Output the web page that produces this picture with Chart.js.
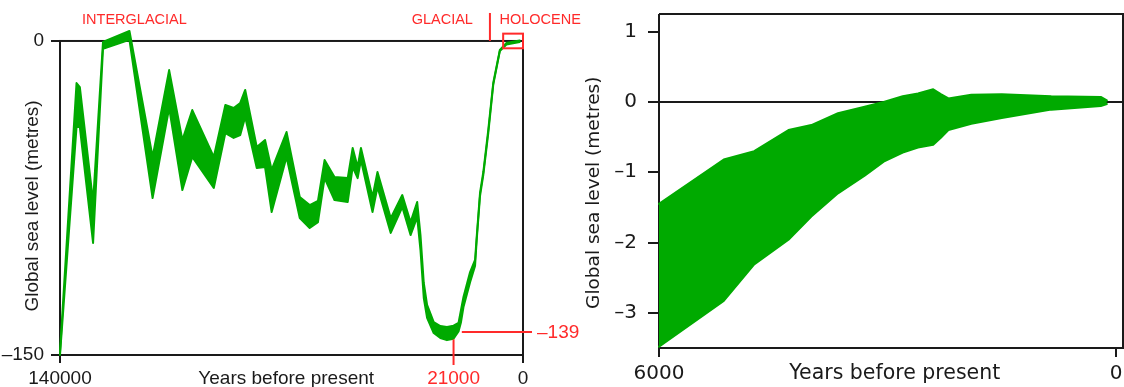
<!DOCTYPE html>
<html>
<head>
<meta charset="utf-8">
<script src="https://cdn.jsdelivr.net/npm/chart.js@4.4.1/dist/chart.umd.min.js"></script>
<style>
  html, body { margin: 0; padding: 0; background: #fff; }
  #wrap { position: relative; width: 1124px; height: 387px; overflow: hidden; }
  #cycle { position: absolute; left: 0; top: 0; }
  #holo { position: absolute; left: 580px; top: 0; }
</style>
</head>
<body>
<div id="wrap">
  <canvas id="cycle" width="600" height="387"></canvas>
  <canvas id="holo" width="544" height="387"></canvas>
</div>
<script>
// ---- Last glacial cycle: sea-level envelope, metres relative to present ----
const cycleYears = [140000, 135000, 134000, 130000, 127000, 119000, 112000, 107000, 103000, 100000,
  93500, 90000, 87500, 85500, 84000, 80500, 78000, 76000, 71500, 67500,
  64500, 62000, 60000, 57000, 53000, 51500, 50000, 49000, 45500, 44000,
  40000, 36500, 34000, 32000, 31000, 30000, 29000, 27000, 25000, 23000,
  21000, 19500, 18750, 18000, 16000, 14500, 14000, 13000, 12000, 10500,
  9000, 7000, 5000, 1000];
const cycleUpper = [-148.6, -20.1, -22.0, -76.9, -0.5, 4.8, -55.4, -13.9, -47.3, -33.0,
  -55.4, -30.6, -32.0, -29.6, -23.4, -50.6, -47.3, -61.6, -43.5, -74.5,
  -78.4, -76.4, -56.9, -65.0, -65.5, -51.1, -60.2, -51.1, -74.5, -62.6,
  -84.6, -73.6, -86.5, -76.9, -92.7, -115.6, -126.1, -134.3, -136.2, -136.6,
  -136.0, -134.7, -128.5, -122.3, -110.4, -104.6, -93.6, -72.6, -62.6, -42.5,
  -20.1, -4.3, -1.0, 0.2];
const cycleLower = [-150.0, -41.1, -41.1, -96.5, -3.8, 0.5, -75.0, -32.0, -71.2, -55.4,
  -70.2, -44.0, -46.3, -44.9, -36.3, -60.7, -60.2, -81.7, -55.4, -84.6,
  -89.3, -86.5, -65.5, -76.0, -76.9, -60.2, -65.5, -56.9, -81.7, -69.8,
  -91.7, -79.3, -92.7, -84.1, -99.9, -122.8, -132.3, -139.5, -141.9, -142.9,
  -142.2, -138.8, -134.3, -127.1, -115.2, -107.5, -95.1, -74.1, -64.0, -44.0,
  -21.0, -4.8, -1.7, -0.5];
const cycleXTicks = [140000, 21000, 0];
const cycleYTicks = [-150, 0];
const lowstandYear = 21000;
const lowstandLevel = -139;
const boundaryYear = 10000;
const interglacialYear = 117500;

// ---- Last 6000 years (Holocene detail) ----
const holoYears = [6000, 5150, 4750, 4300, 4000, 3650, 3300, 3050, 2800, 2600,
  2400, 2300, 2200, 1900, 1500, 850, 200, 120];
const holoUpper = [-1.45, -0.82, -0.70, -0.40, -0.33, -0.16, -0.07, 0.00, 0.08, 0.12,
  0.18, 0.11, 0.05, 0.10, 0.11, 0.08, 0.07, 0.02];
const holoLower = [-3.48, -2.83, -2.31, -1.96, -1.63, -1.30, -1.05, -0.85, -0.72, -0.65,
  -0.61, -0.51, -0.40, -0.31, -0.23, -0.11, -0.06, -0.03];
const holoXTicks = [6000, 0];
const holoYTicks = [1, 0, -1, -2, -3];

const GREEN = '#00aa00';
const RED = '#ff2a2a';
const INK = '#1a1a1a';
const SANS = '"Liberation Sans", Arial, sans-serif';
const WIDE = '"DejaVu Sans", sans-serif';

Chart.defaults.font.family = SANS;

function fmt(v) { return v < 0 ? '\u2013' + Math.abs(v) : String(v); }

function band(years, upper, lower, width) {
  const pts = arr => years.map((x, i) => ({ x, y: arr[i] }));
  const common = {
    pointRadius: 0, borderColor: GREEN, borderWidth: width, tension: 0,
    borderJoinStyle: 'round', borderCapStyle: 'round', clip: false
  };
  return [
    Object.assign({ label: 'upper bound', data: pts(upper), fill: false }, common),
    Object.assign({ label: 'lower bound', data: pts(lower), fill: '-1', backgroundColor: GREEN }, common)
  ];
}

function fixedTicks(values) {
  return scale => { scale.ticks = values.map(value => ({ value })); };
}

// give an axis a fixed thickness and keep its labels from pushing the plot area in
function fixedBox(size) {
  return s => {
    if (s.isHorizontal()) s.height = size; else s.width = size;
    s.paddingTop = 0; s.paddingBottom = 0; s.paddingLeft = 0; s.paddingRight = 0;
  };
}

function seg(ctx, x0, y0, x1, y1) {
  ctx.beginPath(); ctx.moveTo(x0, y0); ctx.lineTo(x1, y1); ctx.stroke();
}

// frame, period labels, zoom box and lowstand marker
const cycleDecor = {
  id: 'cycleDecor',
  beforeDatasetsDraw(chart) {
    const { ctx, scales: { x, y } } = chart;
    const xl = x.getPixelForValue(x.max), xr = x.getPixelForValue(x.min);
    const yt = y.getPixelForValue(0), yb = y.getPixelForValue(y.min);
    ctx.save();
    ctx.strokeStyle = INK; ctx.lineWidth = 2;
    ctx.strokeRect(xl, yt, xr - xl, yb - yt);
    ctx.restore();
  },
  afterDatasetsDraw(chart) {
    const { ctx, scales: { x, y } } = chart;
    const xr = x.getPixelForValue(x.min);
    const yt = y.getPixelForValue(0), yb = y.getPixelForValue(y.min);
    ctx.save();
    ctx.strokeStyle = RED; ctx.fillStyle = RED; ctx.lineWidth = 2;

    const xb = x.getPixelForValue(boundaryYear);
    seg(ctx, xb, yt - 28, xb, yt);
    ctx.font = '14.5px ' + SANS;
    ctx.textBaseline = 'middle';
    const ty = yt - 21;
    ctx.textAlign = 'right'; ctx.fillText('GLACIAL', xb - 17, ty);
    ctx.textAlign = 'left'; ctx.fillText('HOLOCENE', xb + 9.5, ty);
    ctx.textAlign = 'center'; ctx.fillText('INTERGLACIAL', x.getPixelForValue(interglacialYear), ty);

    const bx0 = x.getPixelForValue(holoYears[0]), bx1 = x.getPixelForValue(0);
    const by0 = y.getPixelForValue(3.5), by1 = y.getPixelForValue(-3.5);
    ctx.strokeRect(bx0, by0, bx1 - bx0, by1 - by0);

    const lx = x.getPixelForValue(lowstandYear), ly = y.getPixelForValue(lowstandLevel);
    seg(ctx, x.getPixelForValue(18500), ly, xr + 9, ly);
    seg(ctx, lx, y.getPixelForValue(-142.5), lx, yb + 10);
    ctx.font = '19px ' + SANS;
    ctx.textAlign = 'left';
    ctx.fillText(fmt(lowstandLevel), xr + 14, ly + 1);
    ctx.restore();
  }
};

const holoDecor = {
  id: 'holoDecor',
  beforeDatasetsDraw(chart) {
    const { ctx, chartArea: a, scales: { x, y } } = chart;
    const xl = x.getPixelForValue(x.max);
    ctx.save();
    ctx.strokeStyle = INK; ctx.lineWidth = 2;
    seg(ctx, xl, a.top, a.right, a.top);
    seg(ctx, xl, a.bottom, a.right, a.bottom);
    seg(ctx, xl, a.top, xl, a.bottom);
    seg(ctx, a.right - 1, a.top, a.right - 1, a.bottom);
    const y0 = y.getPixelForValue(0);
    seg(ctx, xl, y0, a.right, y0);
    ctx.restore();
  }
};

const quiet = { legend: { display: false }, tooltip: { enabled: false } };

new Chart(document.getElementById('cycle'), {
  type: 'line',
  data: { datasets: band(cycleYears, cycleUpper, cycleLower, 2) },
  options: {
    responsive: false, animation: false, devicePixelRatio: 1, events: [],
    layout: { padding: { top: 30.5, right: 77, left: 0, bottom: 0 } },
    plugins: quiet,
    scales: {
      x: {
        type: 'linear', reverse: true, min: 0, max: 140000,
        afterBuildTicks: fixedTicks(cycleXTicks),
        afterFit: fixedBox(32),
        border: { display: false },
        grid: {
          drawOnChartArea: false, drawTicks: true, tickLength: 8, lineWidth: 2,
          color: c => (c.tick && c.tick.value === lowstandYear) ? 'rgba(0,0,0,0)' : INK
        },
        ticks: {
          autoSkip: false, maxRotation: 0, padding: 6,
          color: c => (c.tick && c.tick.value === lowstandYear) ? RED : INK,
          font: { family: SANS, size: 19, lineHeight: 1 },
          callback: v => fmt(v)
        },
        title: {
          display: true, text: 'Years before present  ', color: INK,
          font: { family: SANS, size: 19, lineHeight: 1 }, padding: { top: 0, bottom: -1 }
        }
      },
      y: {
        min: -150, max: 5,
        afterBuildTicks: fixedTicks(cycleYTicks),
        afterFit: fixedBox(60),
        border: { display: false },
        grid: { drawOnChartArea: false, drawTicks: true, tickLength: 9, lineWidth: 2, color: INK },
        ticks: {
          padding: 7, color: INK,
          font: { family: SANS, size: 19, lineHeight: 1 },
          callback: v => fmt(v)
        },
        title: {
          display: true, text: 'Global sea level (metres)     ', color: INK,
          font: { family: SANS, size: 19, lineHeight: 1 }, padding: { top: 23.5, bottom: 0 }
        }
      }
    }
  },
  plugins: [cycleDecor]
});

new Chart(document.getElementById('holo'), {
  type: 'line',
  data: { datasets: band(holoYears, holoUpper, holoLower, 2) },
  options: {
    responsive: false, animation: false, devicePixelRatio: 1, events: [],
    layout: { padding: { top: 14, right: 0, left: 0, bottom: 0 } },
    plugins: quiet,
    scales: {
      x: {
        type: 'linear', reverse: true, min: -105, max: 6000,
        afterBuildTicks: fixedTicks(holoXTicks),
        afterFit: fixedBox(39),
        border: { display: false },
        grid: { drawOnChartArea: false, drawTicks: true, tickLength: 9, lineWidth: 2, color: INK },
        ticks: {
          autoSkip: false, maxRotation: 0, padding: 6.5, color: INK,
          font: { family: WIDE, size: 20, lineHeight: 1 },
          callback: v => fmt(v)
        },
        title: {
          display: true, text: ' Years before present', color: INK,
          font: { family: WIDE, size: 20.5, lineHeight: 1 }, padding: { top: 0, bottom: 3 }
        }
      },
      y: {
        min: -3.5, max: 1.25,
        afterBuildTicks: fixedTicks(holoYTicks),
        afterFit: fixedBox(79),
        border: { display: false },
        grid: { drawOnChartArea: false, drawTicks: true, tickLength: 11, lineWidth: 2, color: INK },
        ticks: {
          padding: 11, color: INK,
          font: { family: WIDE, size: 20, lineHeight: 1 },
          callback: v => fmt(v)
        },
        title: {
          display: true, text: 'Global sea level (metres)    ', color: INK,
          font: { family: WIDE, size: 18.5, lineHeight: 1 }, padding: { top: 4.75, bottom: 0 }
        }
      }
    }
  },
  plugins: [holoDecor]
});
</script>
</body>
</html>
